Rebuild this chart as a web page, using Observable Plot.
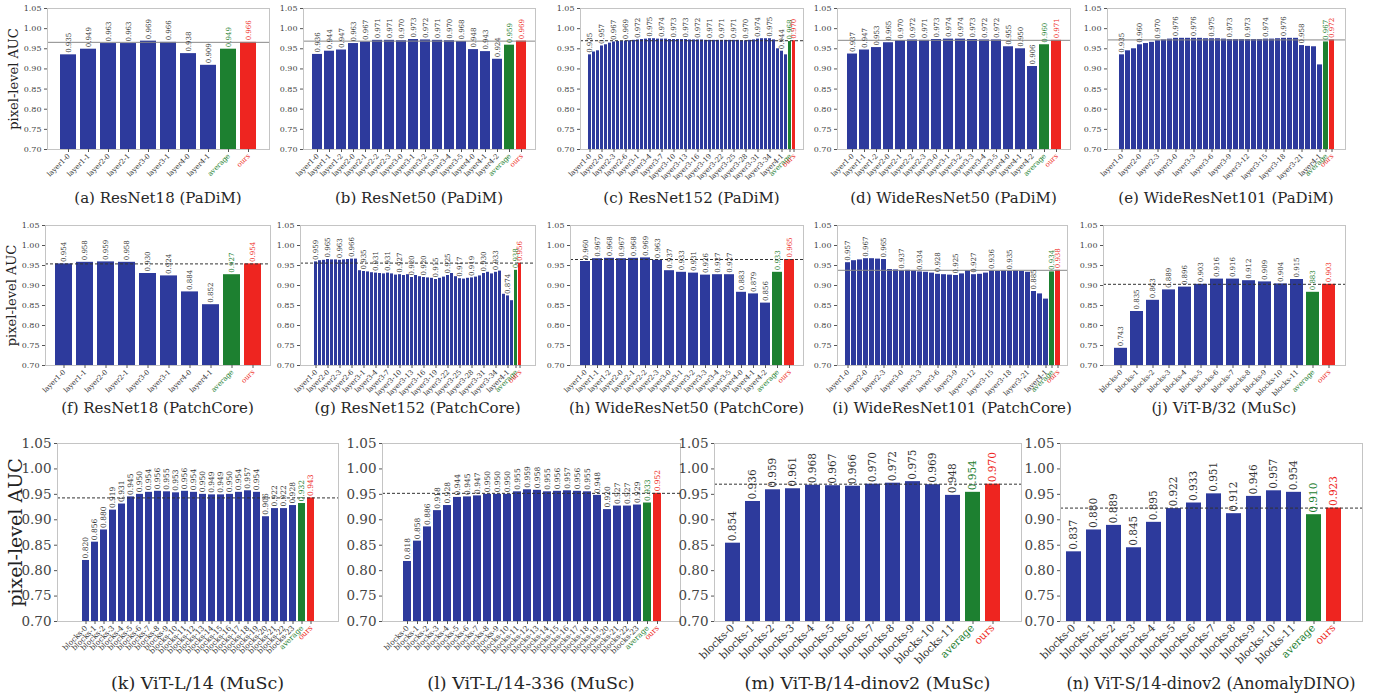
<!DOCTYPE html>
<html><head><meta charset="utf-8">
<script src="https://cdn.jsdelivr.net/npm/d3@7"></script>
<script src="https://cdn.jsdelivr.net/npm/@observablehq/plot@0.6"></script>
<style>
body{margin:0;background:#fff;}
#fig{position:relative;width:1375px;height:697px;overflow:hidden;background:#fff;}
.panel{position:absolute;}
.cap{position:absolute;width:600px;text-align:center;white-space:nowrap;color:#262626;font-family:"DejaVu Serif",serif;line-height:1;}
</style></head><body><div id="fig"></div>
<script>
// ---------------- data ----------------
const yTicks = [0.70, 0.75, 0.80, 0.85, 0.90, 0.95, 1.00, 1.05];

const resnet18Ticks = ["layer1-0","layer1-1","layer2-0","layer2-1","layer3-0","layer3-1","layer4-0","layer4-1"];
const resnet50Ticks = ["layer1-0","layer1-1","layer1-2","layer2-0","layer2-1","layer2-2","layer2-3","layer3-0","layer3-1","layer3-2","layer3-3","layer3-4","layer3-5","layer4-0","layer4-1","layer4-2"];
const resnet152Ticks = ["layer1-0","layer2-0","layer2-3","layer2-6","layer3-1","layer3-4","layer3-7","layer3-10","layer3-13","layer3-16","layer3-19","layer3-22","layer3-25","layer3-28","layer3-31","layer3-34","layer4-1"];
const wrn101Ticks = ["layer1-0","layer2-0","layer2-3","layer3-0","layer3-3","layer3-6","layer3-9","layer3-12","layer3-15","layer3-18","layer3-21","layer4-1"];
const vit12Ticks = ["blocks-0","blocks-1","blocks-2","blocks-3","blocks-4","blocks-5","blocks-6","blocks-7","blocks-8","blocks-9","blocks-10","blocks-11"];
const vit24Ticks = ["blocks-0","blocks-1","blocks-2","blocks-3","blocks-4","blocks-5","blocks-6","blocks-7","blocks-8","blocks-9","blocks-10","blocks-11","blocks-12","blocks-13","blocks-14","blocks-15","blocks-16","blocks-17","blocks-18","blocks-19","blocks-20","blocks-21","blocks-22","blocks-23"];

// (a) ResNet18 (PaDiM)
const aVals = [0.935,0.949,0.963,0.963,0.969,0.966,0.938,0.909];
const aAvg = 0.949, aOurs = 0.966;
// (b) ResNet50 (PaDiM)
const bVals = [0.936,0.944,0.947,0.963,0.967,0.971,0.971,0.970,0.973,0.972,0.971,0.970,0.968,0.948,0.943,0.924];
const bAvg = 0.959, bOurs = 0.969;
// (c) ResNet152 (PaDiM)
const cVals = [0.935,0.942,0.945,0.957,0.960,0.964,0.967,0.968,0.968,0.969,0.970,0.971,0.972,0.973,0.974,0.975,0.975,0.974,0.974,0.974,0.973,0.973,0.973,0.973,0.973,0.972,0.972,0.972,0.972,0.971,0.971,0.971,0.971,0.971,0.971,0.971,0.971,0.971,0.970,0.970,0.971,0.972,0.974,0.975,0.975,0.975,0.972,0.950,0.944,0.935];
const cAvg = 0.968, cOurs = 0.970;
// (d) WideResNet50 (PaDiM)
const dVals = [0.937,0.947,0.953,0.965,0.970,0.972,0.971,0.973,0.974,0.974,0.973,0.972,0.972,0.955,0.950,0.906];
const dAvg = 0.960, dOurs = 0.971;
// (e) WideResNet101 (PaDiM)
const eVals = [0.935,0.945,0.950,0.960,0.963,0.966,0.970,0.972,0.974,0.976,0.976,0.976,0.976,0.976,0.975,0.975,0.975,0.974,0.973,0.973,0.973,0.973,0.973,0.973,0.974,0.974,0.975,0.976,0.976,0.976,0.958,0.956,0.955,0.910];
const eAvg = 0.967, eOurs = 0.972;
// (f) ResNet18 (PatchCore)
const fVals = [0.954,0.958,0.959,0.958,0.930,0.924,0.884,0.852];
const fAvg = 0.927, fOurs = 0.954;
// (g) ResNet152 (PatchCore)
const gVals = [0.959,0.962,0.963,0.965,0.964,0.964,0.963,0.964,0.965,0.966,0.966,0.937,0.935,0.934,0.932,0.931,0.930,0.929,0.931,0.929,0.926,0.927,0.925,0.927,0.920,0.925,0.922,0.920,0.919,0.918,0.915,0.918,0.921,0.925,0.930,0.922,0.917,0.916,0.918,0.919,0.921,0.924,0.930,0.933,0.929,0.933,0.936,0.878,0.874,0.862];
const gAvg = 0.938, gOurs = 0.956;
// (h) WideResNet50 (PatchCore)
const hVals = [0.960,0.967,0.968,0.967,0.968,0.969,0.963,0.937,0.933,0.931,0.926,0.927,0.927,0.883,0.879,0.856];
const hAvg = 0.933, hOurs = 0.965;
// (i) WideResNet101 (PatchCore)
const iVals = [0.957,0.962,0.964,0.967,0.967,0.966,0.965,0.940,0.939,0.937,0.938,0.936,0.934,0.933,0.931,0.928,0.927,0.926,0.925,0.929,0.937,0.927,0.928,0.931,0.936,0.935,0.936,0.935,0.936,0.935,0.933,0.885,0.879,0.866];
const iAvg = 0.934, iOurs = 0.938;
// (j) ViT-B/32 (MuSc)
const jVals = [0.743,0.835,0.863,0.889,0.896,0.903,0.916,0.916,0.912,0.909,0.904,0.915];
const jAvg = 0.883, jOurs = 0.903;
// (k) ViT-L/14 (MuSc)
const kVals = [0.820,0.856,0.880,0.919,0.931,0.945,0.950,0.954,0.956,0.955,0.953,0.956,0.954,0.950,0.949,0.949,0.950,0.954,0.957,0.954,0.906,0.922,0.922,0.928];
const kAvg = 0.932, kOurs = 0.943;
// (l) ViT-L/14-336 (MuSc)
const lVals = [0.818,0.858,0.886,0.918,0.928,0.944,0.945,0.947,0.950,0.950,0.950,0.955,0.959,0.958,0.955,0.956,0.957,0.956,0.955,0.948,0.920,0.927,0.927,0.929];
const lAvg = 0.933, lOurs = 0.952;
// (m) ViT-B/14-dinov2 (MuSc)
const mVals = [0.854,0.936,0.959,0.961,0.968,0.967,0.966,0.970,0.972,0.975,0.969,0.948];
const mAvg = 0.954, mOurs = 0.970;
// (n) ViT-S/14-dinov2 (AnomalyDINO)
const nVals = [0.837,0.880,0.889,0.845,0.895,0.922,0.933,0.951,0.912,0.946,0.957,0.954];
const nAvg = 0.910, nOurs = 0.923;

// ---------------- panels ----------------
const panels = [
  {cap:"(a) ResNet18 (PaDiM)", vals:aVals, avg:aAvg, ours:aOurs, ticks:resnet18Ticks, step:1, dashed:false},
  {cap:"(b) ResNet50 (PaDiM)", vals:bVals, avg:bAvg, ours:bOurs, ticks:resnet50Ticks, step:1, dashed:false},
  {cap:"(c) ResNet152 (PaDiM)", vals:cVals, avg:cAvg, ours:cOurs, ticks:resnet152Ticks, step:3, dashed:true},
  {cap:"(d) WideResNet50 (PaDiM)", vals:dVals, avg:dAvg, ours:dOurs, ticks:resnet50Ticks, step:1, dashed:false},
  {cap:"(e) WideResNet101 (PaDiM)", vals:eVals, avg:eAvg, ours:eOurs, ticks:wrn101Ticks, step:3, labelMax:30, dashed:false},
  {cap:"(f) ResNet18 (PatchCore)", vals:fVals, avg:fAvg, ours:fOurs, ticks:resnet18Ticks, step:1, dashed:true},
  {cap:"(g) ResNet152 (PatchCore)", vals:gVals, avg:gAvg, ours:gOurs, ticks:resnet152Ticks, step:3, dashed:true},
  {cap:"(h) WideResNet50 (PatchCore)", vals:hVals, avg:hAvg, ours:hOurs, ticks:resnet50Ticks, step:1, dashed:true},
  {cap:"(i) WideResNet101 (PatchCore)", vals:iVals, avg:iAvg, ours:iOurs, ticks:wrn101Ticks, step:3, labelAt:[0,3,6,9,12,15,18,21,24,27,31], dashed:false},
  {cap:"(j) ViT-B/32 (MuSc)", vals:jVals, avg:jAvg, ours:jOurs, ticks:vit12Ticks, step:1, dashed:true},
  {cap:"(k) ViT-L/14 (MuSc)", vals:kVals, avg:kAvg, ours:kOurs, ticks:vit24Ticks, step:1, dashed:true},
  {cap:"(l) ViT-L/14-336 (MuSc)", vals:lVals, avg:lAvg, ours:lOurs, ticks:vit24Ticks, step:1, dashed:true},
  {cap:"(m) ViT-B/14-dinov2 (MuSc)", vals:mVals, avg:mAvg, ours:mOurs, ticks:vit12Ticks, step:1, dashed:true},
  {cap:"(n) ViT-S/14-dinov2 (AnomalyDINO)", vals:nVals, avg:nAvg, ours:nOurs, ticks:vit12Ticks, step:1, dashed:true}
];

// layout (frame boxes in page pixels)
const r1 = {top:8, bottom:149, capY:198, tickFs:8, valFs:7, xFs:7, capFs:15, inL:4, inR:4, pad:0.2, ylFs:13, ylDx:34};
const r2 = Object.assign({}, r1, {top:225, bottom:365, capY:408});
const r3 = {top:443, bottom:621, capY:684, tickFs:13.5, valFs:7.5, xFs:7.5, capFs:17.5, inL:12, inR:10, pad:0.2, ylFs:19, ylDx:42};
const r3m = Object.assign({}, r3, {valFs:10.5, xFs:10.5, inL:0, inR:10, pad:0.25});
const r3n = Object.assign({}, r3m, {inL:0, inR:16, capFs:16});
const boxes = [
  [r1,47,269,true],[r1,303,535],[r1,580,803],[r1,837,1070],[r1,1107,1345],
  [r2,45,270,true],[r2,300,535],[r2,570,803],[r2,837,1067],[r2,1103,1345],
  [r3,57,338,true],[r3,382,680],[r3m,714,1021],[r3n,1060,1362]
];

const BLUE = "#2d3a9c", GREEN = "#1d8030", RED = "#ee2520";
const barCol = {b:BLUE, avg:GREEN, ours:RED};
const txtCol = {b:"#333", avg:GREEN, ours:RED};

const fig = document.getElementById("fig");

panels.forEach((p, k) => {
  const [g, left, right, ylabel] = boxes[k];
  const n = p.vals.length;
  const rows = p.vals.map((v, i) => ({i, v, kind:"b"}));
  rows.push({i:n, v:p.avg, kind:"avg"});
  rows.push({i:n+1, v:p.ours, kind:"ours"});
  const labelIdx = p.labelAt || d3.range(0, (p.labelMax ?? n - 1) + 1, p.step);
  const labelRows = rows.filter(r => r.kind !== "b" || labelIdx.includes(r.i));
  const tickRows = p.ticks.map((t, j) => ({i:j * p.step, t, kind:"b"}));
  tickRows.push({i:n, t:"average", kind:"avg"}, {i:n+1, t:"ours", kind:"ours"});

  const mL = 60, mR = 12, mT = 10, mB = 70;
  const W = right - left, H = g.bottom - g.top;
  const marks = [
    Plot.barY(rows, {x:"i", y1:0.70, y2:"v", fill:d => barCol[d.kind]}),
    Plot.ruleY([p.ours], p.dashed ? {stroke:"#333", strokeWidth:1, strokeDasharray:"3,2"} : {stroke:"#888", strokeWidth:1}),
    Plot.text(labelRows, {x:"i", y:"v", text:d => d.v.toFixed(3), rotate:-90, textAnchor:"start", dy:-2, fill:d => txtCol[d.kind], fontSize:g.valFs}),
    Plot.frame({stroke:"#c4c4c4"}),
    Plot.axisY({ticks:yTicks, tickFormat:d3.format(".2f"), tickSize:3, tickPadding:3, fontSize:g.tickFs, label:null, stroke:"#555", fill:"#444"}),
    Plot.axisX({ticks:tickRows.map(d => d.i), tickFormat:() => "", tickSize:3, label:null, stroke:"#555"}),
    Plot.text(tickRows, {x:"i", frameAnchor:"bottom", text:"t", rotate:-45, textAnchor:"end", dy:7, dx:2, fill:d => txtCol[d.kind], fontSize:g.xFs})
  ];
  if (ylabel) marks.push(Plot.text(["pixel-level AUC"], {frameAnchor:"left", text:d => d, rotate:-90, textAnchor:"middle", dx:-g.ylDx, fontSize:g.ylFs, fill:"#222"}));

  const svg = Plot.plot({
    width:W + mL + mR, height:H + mT + mB,
    marginLeft:mL, marginRight:mR, marginTop:mT, marginBottom:mB,
    style:{background:"transparent", overflow:"visible", fontFamily:"'DejaVu Serif', serif", color:"#333"},
    x:{type:"band", domain:d3.range(n + 2), padding:g.pad, insetLeft:g.inL, insetRight:g.inR, axis:null},
    y:{domain:[0.70, 1.05], axis:null},
    color:{type:"identity"},
    marks
  });
  const div = document.createElement("div");
  div.className = "panel";
  div.style.left = (left - mL) + "px";
  div.style.top = (g.top - mT) + "px";
  div.appendChild(svg);
  fig.appendChild(div);

  const cap = document.createElement("div");
  cap.className = "cap";
  cap.textContent = p.cap;
  cap.style.left = ((left + right) / 2 - 300) + "px";
  cap.style.top = (g.capY - g.capFs / 2) + "px";
  cap.style.fontSize = g.capFs + "px";
  fig.appendChild(cap);
});
</script>
</body></html>
